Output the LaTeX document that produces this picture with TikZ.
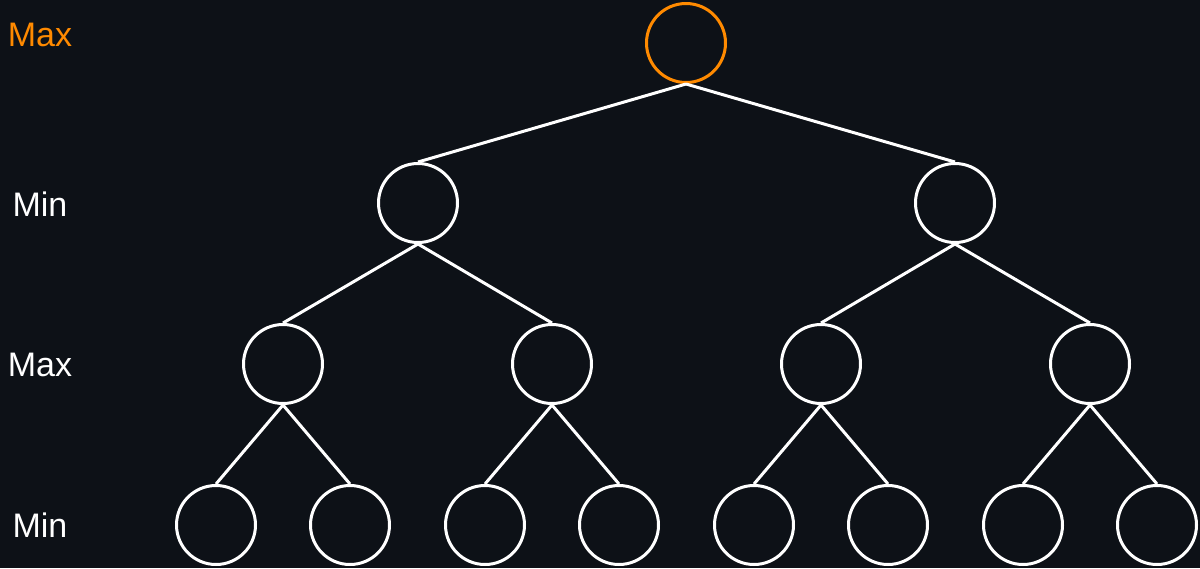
\documentclass[tikz,border=0pt]{standalone}
\usepackage{fontspec}
\setmainfont{Liberation Sans}
\usetikzlibrary{positioning}

\definecolor{bgdark}{HTML}{0D1117}
\definecolor{maxorange}{HTML}{FF8A00}

\begin{document}
\begin{tikzpicture}[
    x=1pt, y=-1pt,
    state/.style={circle, draw=white, line width=3pt, minimum size=79pt, inner sep=0pt},
    rootstate/.style={state, draw=maxorange},
    link/.style={draw=white, line width=3pt},
    level/.style={text=white, font=\fontsize{34}{40}\selectfont, inner sep=0pt},
    toplevel/.style={level, text=maxorange}
  ]
  \fill[bgdark] (0,0) rectangle (1200,568);
  \useasboundingbox (0,0) rectangle (1200,568);

  \node[toplevel] (lvl0) at (40,34.5) {Max};
  \node[level] (lvl1) at (40,204) {Min};
  \node[level] (lvl2) at (40,365) {Max};
  \node[level] (lvl3) at (40,525) {Min};

  \node[rootstate] (root) at (686,43) {};

  \node[state] (l) at (418,203) {};
  \node[state] (r) at (955,203) {};
  \path (root.south) edge[link] (l.north) edge[link] (r.north);

  \node[state] (ll) at (283,364) {};
  \node[state] (lr) at (552,364) {};
  \node[state] (rl) at (821,364) {};
  \node[state] (rr) at (1090,364) {};
  \path (l.south) edge[link] (ll.north) edge[link] (lr.north);
  \path (r.south) edge[link] (rl.north) edge[link] (rr.north);

  \node[state] (lll) at (216,525) {};
  \node[state] (llr) at (350,525) {};
  \node[state] (lrl) at (485,525) {};
  \node[state] (lrr) at (619,525) {};
  \node[state] (rll) at (754,525) {};
  \node[state] (rlr) at (888,525) {};
  \node[state] (rrl) at (1023,525) {};
  \node[state] (rrr) at (1157,525) {};
  \path (ll.south) edge[link] (lll.north) edge[link] (llr.north);
  \path (lr.south) edge[link] (lrl.north) edge[link] (lrr.north);
  \path (rl.south) edge[link] (rll.north) edge[link] (rlr.north);
  \path (rr.south) edge[link] (rrl.north) edge[link] (rrr.north);
\end{tikzpicture}
\end{document}
